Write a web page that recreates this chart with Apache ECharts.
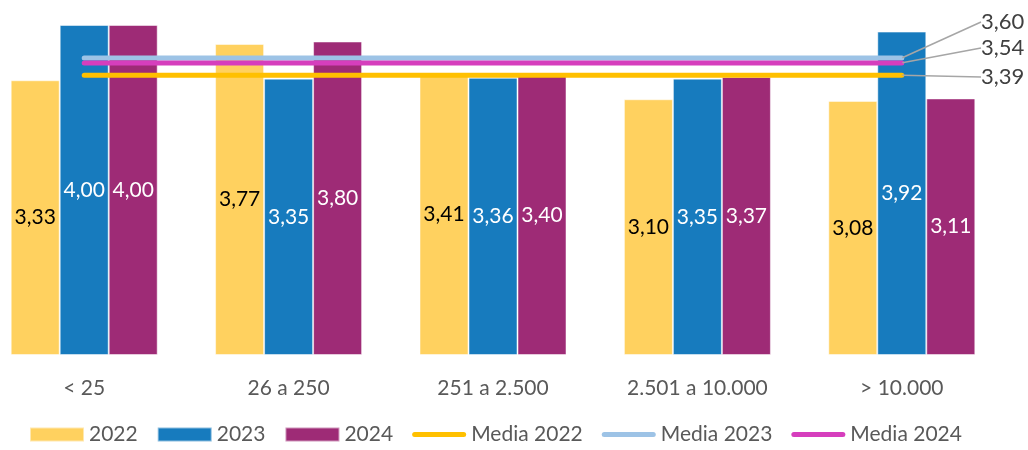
<!DOCTYPE html>
<html>
<head>
<meta charset="utf-8">
<script src="https://cdn.jsdelivr.net/npm/echarts@6/dist/echarts.min.js"></script>
<style>
  html, body { margin: 0; padding: 0; background: #fff; overflow: hidden; }
  /* el area de trazado empieza fuera del borde izquierdo, como en el original */
  #chart { width: 1046px; height: 450px; margin-left: -18px; }
</style>
</head>
<body>
<div id="chart"></div>
<script>
// datos
const categories = ["< 25", "26 a 250", "251 a 2.500", "2.501 a 10.000", "> 10.000"];
const values2022 = [3.33, 3.77, 3.41, 3.10, 3.08];
const values2023 = [4.00, 3.35, 3.36, 3.35, 3.92];
const values2024 = [4.00, 3.80, 3.40, 3.37, 3.11];
const media2022 = 3.39;
const media2023 = 3.60;
const media2024 = 3.54;

const font = "Lato";
const fmt = v => v.toFixed(2).replace(".", ",");
const lineIcon = "path://M2.5,0 H51.5 A2.5,2.5 0 0 1 51.5,5 H2.5 A2.5,2.5 0 0 1 2.5,0 Z";

const chart = echarts.init(document.getElementById("chart"));

const barSeries = (name, data, color, labelColor) => ({
  name: name,
  type: "bar",
  data: data,
  barWidth: 49,
  barGap: "0%",
  itemStyle: {
    color: color,
    borderColor: "rgba(255,255,255,0.5)",
    borderWidth: 1
  },
  label: {
    show: true,
    position: "inside",
    color: labelColor,
    fontFamily: font,
    fontSize: 21,
    formatter: p => fmt(p.value)
  }
});

// linea de media: un punto por categoria, etiqueta solo en el ultimo
const mediaSeries = (name, value, color, labelY) => ({
  name: name,
  type: "line",
  symbol: "none",
  z: 5,
  data: categories.map((c, i) => i === categories.length - 1
    ? { value: value, symbol: "circle", symbolSize: 1, label: { show: true } }
    : value),
  lineStyle: { color: color, width: 5, cap: "round" },
  itemStyle: { color: color },
  label: {
    show: false,
    color: "#404040",
    fontFamily: font,
    fontSize: 22,
    formatter: p => fmt(p.value)
  },
  labelLine: {
    show: true,
    lineStyle: { color: "#a6a6a6", width: 1.5 }
  },
  labelLayout: { x: 999, y: labelY, align: "left", verticalAlign: "middle" }
});

const option = {
  animation: false,
  grid: { left: 0, right: 24, top: 25, bottom: 95 },
  xAxis: {
    type: "category",
    data: categories,
    axisLine: { show: false },
    axisTick: { show: false },
    axisLabel: {
      color: "#595959",
      fontFamily: font,
      fontSize: 21,
      margin: 23
    }
  },
  yAxis: {
    type: "value",
    min: 0,
    max: 4,
    show: false
  },
  legend: {
    bottom: 0,
    left: 42,
    itemWidth: 54,
    itemHeight: 14,
    itemGap: 19,
    textStyle: { color: "#595959", fontFamily: font, fontSize: 21 },
    data: [
      { name: "2022", icon: "rect" },
      { name: "2023", icon: "rect" },
      { name: "2024", icon: "rect" },
      { name: "Media 2022", icon: lineIcon },
      { name: "Media 2023", icon: lineIcon },
      { name: "Media 2024", icon: lineIcon }
    ]
  },
  series: [
    barSeries("2022", values2022, "#FFD15F", "#000000"),
    barSeries("2023", values2023, "#177BBE", "#ffffff"),
    barSeries("2024", values2024, "#9E2B76", "#ffffff"),
    mediaSeries("Media 2022", media2022, "#FFC000", 77),
    mediaSeries("Media 2023", media2023, "#9DC3E6", 22),
    mediaSeries("Media 2024", media2024, "#D63EBD", 48)
  ]
};

chart.setOption(option);
</script>
</body>
</html>
